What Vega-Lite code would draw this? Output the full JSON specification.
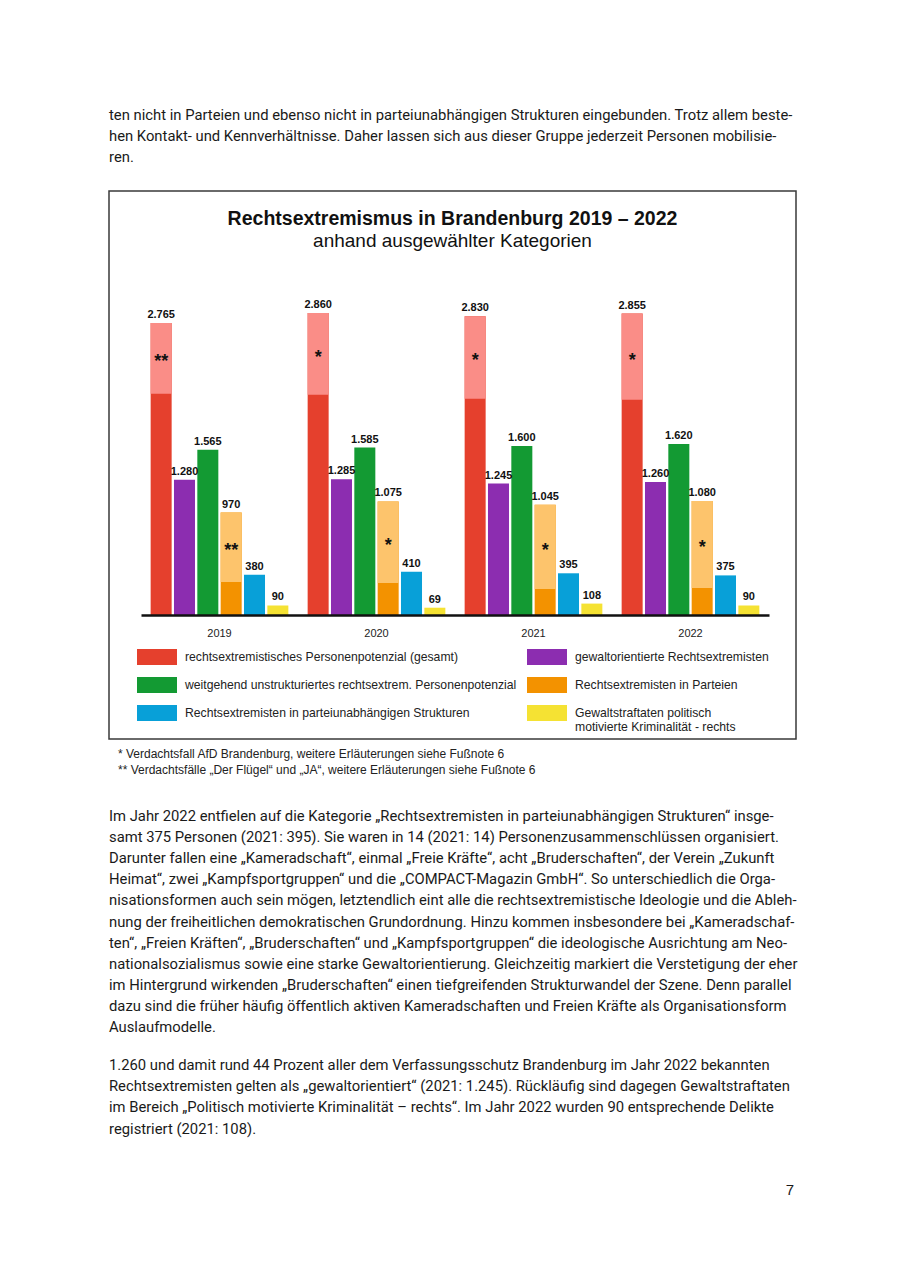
{
  "$schema": "https://vega.github.io/schema/vega-lite/v6.json",
  "background": "white",
  "padding": {"left": 108, "top": 0, "right": 0, "bottom": 0},
  "spacing": 0,
  "config": {
    "view": {"stroke": null},
    "font": "Liberation Sans",
    "locale": {"number": {"decimal": ",", "thousands": ".", "grouping": [3], "currency": ["", " €"]}},
    "text": {"font": "Roboto", "color": "#1a1a1a"}
  },
  "vconcat": [
    {
      "width": 687, "height": 190,
      "data": {"values": [
        {"zeile": 1, "text": "ten nicht in Parteien und ebenso nicht in parteiunabhängigen Strukturen eingebunden. Trotz allem beste-"},
        {"zeile": 2, "text": "hen Kontakt- und Kennverhältnisse. Daher lassen sich aus dieser Gruppe jederzeit Personen mobilisie-"},
        {"zeile": 3, "text": "ren."}
      ]},
      "mark": {"type": "text", "align": "left", "baseline": "middle", "fontSize": 14.8},
      "encoding": {
        "x": {"datum": 0, "type": "quantitative", "scale": {"domain": [0, 1]}, "axis": null},
        "y": {"field": "zeile", "type": "quantitative", "scale": {"domain": [-4.5238, 4.5238], "reverse": true, "nice": false, "zero": false}, "axis": null},
        "text": {"field": "text"}
      }
    },
    {
      "width": 687, "height": 548,
      "view": {"stroke": "#3a3a3a", "strokeWidth": 1.5},
      "title": {
        "text": "Rechtsextremismus in Brandenburg 2019 – 2022",
        "subtitle": "anhand ausgewählter Kategorien",
        "anchor": "middle", "frame": "group", "orient": "top", "offset": -61,
        "font": "Liberation Sans", "fontSize": 19.5, "fontWeight": "bold", "color": "#111",
        "subtitleFont": "Liberation Sans", "subtitleFontSize": 19, "subtitleColor": "#111", "subtitlePadding": 3
      },
      "data": {"values": [
        {"jahr": "2019", "kategorie": "rechtsextremistisches Personenpotenzial (gesamt)", "gesamt": 2765, "kern": 2095, "stern": "**"},
        {"jahr": "2019", "kategorie": "gewaltorientierte Rechtsextremisten", "gesamt": 1280},
        {"jahr": "2019", "kategorie": "weitgehend unstrukturiertes rechtsextrem. Personenpotenzial", "gesamt": 1565},
        {"jahr": "2019", "kategorie": "Rechtsextremisten in Parteien", "gesamt": 970, "kern": 313, "stern": "**"},
        {"jahr": "2019", "kategorie": "Rechtsextremisten in parteiunabhängigen Strukturen", "gesamt": 380},
        {"jahr": "2019", "kategorie": "Gewaltstraftaten politisch\nmotivierte Kriminalität - rechts", "gesamt": 90},
        {"jahr": "2020", "kategorie": "rechtsextremistisches Personenpotenzial (gesamt)", "gesamt": 2860, "kern": 2085, "stern": "*"},
        {"jahr": "2020", "kategorie": "gewaltorientierte Rechtsextremisten", "gesamt": 1285},
        {"jahr": "2020", "kategorie": "weitgehend unstrukturiertes rechtsextrem. Personenpotenzial", "gesamt": 1585},
        {"jahr": "2020", "kategorie": "Rechtsextremisten in Parteien", "gesamt": 1075, "kern": 303, "stern": "*"},
        {"jahr": "2020", "kategorie": "Rechtsextremisten in parteiunabhängigen Strukturen", "gesamt": 410},
        {"jahr": "2020", "kategorie": "Gewaltstraftaten politisch\nmotivierte Kriminalität - rechts", "gesamt": 69},
        {"jahr": "2021", "kategorie": "rechtsextremistisches Personenpotenzial (gesamt)", "gesamt": 2830, "kern": 2047, "stern": "*"},
        {"jahr": "2021", "kategorie": "gewaltorientierte Rechtsextremisten", "gesamt": 1245},
        {"jahr": "2021", "kategorie": "weitgehend unstrukturiertes rechtsextrem. Personenpotenzial", "gesamt": 1600},
        {"jahr": "2021", "kategorie": "Rechtsextremisten in Parteien", "gesamt": 1045, "kern": 246, "stern": "*"},
        {"jahr": "2021", "kategorie": "Rechtsextremisten in parteiunabhängigen Strukturen", "gesamt": 395},
        {"jahr": "2021", "kategorie": "Gewaltstraftaten politisch\nmotivierte Kriminalität - rechts", "gesamt": 108},
        {"jahr": "2022", "kategorie": "rechtsextremistisches Personenpotenzial (gesamt)", "gesamt": 2855, "kern": 2038, "stern": "*"},
        {"jahr": "2022", "kategorie": "gewaltorientierte Rechtsextremisten", "gesamt": 1260},
        {"jahr": "2022", "kategorie": "weitgehend unstrukturiertes rechtsextrem. Personenpotenzial", "gesamt": 1620},
        {"jahr": "2022", "kategorie": "Rechtsextremisten in Parteien", "gesamt": 1080, "kern": 256, "stern": "*"},
        {"jahr": "2022", "kategorie": "Rechtsextremisten in parteiunabhängigen Strukturen", "gesamt": 375},
        {"jahr": "2022", "kategorie": "Gewaltstraftaten politisch\nmotivierte Kriminalität - rechts", "gesamt": 90}
      ]},
      "encoding": {
        "x": {
          "field": "jahr", "type": "nominal",
          "scale": {"range": [32, 660], "paddingInner": 0.108, "paddingOuter": 0.054},
          "axis": {"title": null, "orient": "bottom", "offset": -124, "ticks": false, "domainColor": "#111", "domainWidth": 2.5, "labelAngle": 0, "labelFont": "Liberation Sans", "labelFontSize": 11, "labelColor": "#222", "labelPadding": 12, "zindex": 1}
        },
        "xOffset": {
          "field": "kategorie", "type": "nominal",
          "sort": ["rechtsextremistisches Personenpotenzial (gesamt)", "gewaltorientierte Rechtsextremisten", "weitgehend unstrukturiertes rechtsextrem. Personenpotenzial", "Rechtsextremisten in Parteien", "Rechtsextremisten in parteiunabhängigen Strukturen", "Gewaltstraftaten politisch\nmotivierte Kriminalität - rechts"],
          "scale": {"paddingInner": 0.1, "paddingOuter": 0.05}
        }
      },
      "layer": [
        {
          "mark": {"type": "bar"},
          "encoding": {
            "y": {"field": "gesamt", "type": "quantitative", "scale": {"domain": [0, 3125], "range": [424, 94], "nice": false}, "axis": null},
            "color": {
              "field": "kategorie", "type": "nominal",
              "scale": {
                "domain": ["rechtsextremistisches Personenpotenzial (gesamt)", "gewaltorientierte Rechtsextremisten", "weitgehend unstrukturiertes rechtsextrem. Personenpotenzial", "Rechtsextremisten in Parteien", "Rechtsextremisten in parteiunabhängigen Strukturen", "Gewaltstraftaten politisch\nmotivierte Kriminalität - rechts"],
                "range": ["#e5402d", "#8c2db0", "#139a33", "#f39200", "#08a0d8", "#f5e233"]
              },
              "legend": {
                "orient": "none", "legendX": 28, "legendY": 637, "columns": 2, "direction": "horizontal", "title": null,
                "gridAlign": "each",
                "symbolType": "M-1,-0.4H1V0.4H-1Z", "symbolSize": 1600, "symbolStrokeWidth": 0,
                "labelFont": "Liberation Sans", "labelFontSize": 12.2, "labelColor": "#222",
                "labelOffset": 8, "columnPadding": 10, "rowPadding": 0, "labelLimit": 400,
                "labelExpr": "split(datum.label, '\\n')"
              }
            }
          }
        },
        {
          "transform": [{"filter": "isValid(datum.kern)"}],
          "mark": {"type": "bar"},
          "encoding": {
            "y": {"field": "gesamt", "type": "quantitative"},
            "y2": {"field": "kern"},
            "fill": {
              "field": "kategorie", "type": "nominal",
              "scale": {"domain": ["rechtsextremistisches Personenpotenzial (gesamt)", "Rechtsextremisten in Parteien"], "range": ["#fa8d87", "#fdc46c"]},
              "legend": null
            }
          }
        },
        {
          "mark": {"type": "text", "baseline": "bottom", "dy": -3, "font": "Liberation Sans", "fontSize": 11, "fontWeight": "bold", "color": "#111"},
          "encoding": {
            "y": {"field": "gesamt", "type": "quantitative"},
            "text": {"field": "gesamt", "type": "quantitative", "format": ",d"}
          }
        },
        {
          "transform": [{"filter": "isValid(datum.stern)"}, {"calculate": "(datum.gesamt + datum.kern) / 2", "as": "mitte"}],
          "mark": {"type": "text", "baseline": "middle", "dy": 4, "font": "Liberation Sans", "fontSize": 18, "fontWeight": "bold", "color": "#111"},
          "encoding": {
            "y": {"field": "mitte", "type": "quantitative"},
            "text": {"field": "stern"}
          }
        }
      ]
    },
    {
      "width": 687, "height": 44,
      "data": {"values": [
        {"zeile": 1, "text": "* Verdachtsfall AfD Brandenburg, weitere Erläuterungen siehe Fußnote 6"},
        {"zeile": 2, "text": "** Verdachtsfälle „Der Flügel“ und „JA“, weitere Erläuterungen siehe Fußnote 6"}
      ]},
      "mark": {"type": "text", "align": "left", "baseline": "middle", "dx": 9, "font": "Liberation Sans", "fontSize": 12, "color": "#222"},
      "encoding": {
        "x": {"datum": 0, "type": "quantitative", "scale": {"domain": [0, 1]}, "axis": null},
        "y": {"field": "zeile", "type": "quantitative", "scale": {"domain": [0.125, 2.875], "reverse": true, "nice": false, "zero": false}, "axis": null},
        "text": {"field": "text"}
      }
    },
    {
      "width": 687, "height": 263,
      "data": {"values": [
        {"zeile": 1, "text": "Im Jahr 2022 entfielen auf die Kategorie „Rechtsextremisten in parteiunabhängigen Strukturen“ insge-"},
        {"zeile": 2, "text": "samt 375 Personen (2021: 395). Sie waren in 14 (2021: 14) Personenzusammenschlüssen organisiert."},
        {"zeile": 3, "text": "Darunter fallen eine „Kameradschaft“, einmal „Freie Kräfte“, acht „Bruderschaften“, der Verein „Zukunft"},
        {"zeile": 4, "text": "Heimat“, zwei „Kampfsportgruppen“ und die „COMPACT-Magazin GmbH“. So unterschiedlich die Orga-"},
        {"zeile": 5, "text": "nisationsformen auch sein mögen, letztendlich eint alle die rechtsextremistische Ideologie und die Ableh-"},
        {"zeile": 6, "text": "nung der freiheitlichen demokratischen Grundordnung. Hinzu kommen insbesondere bei „Kameradschaf-"},
        {"zeile": 7, "text": "ten“, „Freien Kräften“, „Bruderschaften“ und „Kampfsportgruppen“ die ideologische Ausrichtung am Neo-"},
        {"zeile": 8, "text": "nationalsozialismus sowie eine starke Gewaltorientierung. Gleichzeitig markiert die Verstetigung der eher"},
        {"zeile": 9, "text": "im Hintergrund wirkenden „Bruderschaften“ einen tiefgreifenden Strukturwandel der Szene. Denn parallel"},
        {"zeile": 10, "text": "dazu sind die früher häufig öffentlich aktiven Kameradschaften und Freien Kräfte als Organisationsform"},
        {"zeile": 11, "text": "Auslaufmodelle."}
      ]},
      "mark": {"type": "text", "align": "left", "baseline": "middle", "fontSize": 14.8},
      "encoding": {
        "x": {"datum": 0, "type": "quantitative", "scale": {"domain": [0, 1]}, "axis": null},
        "y": {"field": "zeile", "type": "quantitative", "scale": {"domain": [-0.564, 11.9], "reverse": true, "nice": false, "zero": false}, "axis": null},
        "text": {"field": "text"}
      }
    },
    {
      "width": 687, "height": 105,
      "data": {"values": [
        {"zeile": 1, "text": "1.260 und damit rund 44 Prozent aller dem Verfassungsschutz Brandenburg im Jahr 2022 bekannten"},
        {"zeile": 2, "text": "Rechtsextremisten gelten als „gewaltorientiert“ (2021: 1.245). Rückläufig sind dagegen Gewaltstraftaten"},
        {"zeile": 3, "text": "im Bereich „Politisch motivierte Kriminalität – rechts“. Im Jahr 2022 wurden 90 entsprechende Delikte"},
        {"zeile": 4, "text": "registriert (2021: 108)."}
      ]},
      "mark": {"type": "text", "align": "left", "baseline": "middle", "fontSize": 14.8},
      "encoding": {
        "x": {"datum": 0, "type": "quantitative", "scale": {"domain": [0, 1]}, "axis": null},
        "y": {"field": "zeile", "type": "quantitative", "scale": {"domain": [0.1038, 5.057], "reverse": true, "nice": false, "zero": false}, "axis": null},
        "text": {"field": "text"}
      }
    },
    {
      "width": 685, "height": 60,
      "data": {"values": [{"zeile": 1, "text": "7"}]},
      "mark": {"type": "text", "align": "right", "baseline": "middle", "font": "Liberation Sans", "fontSize": 15},
      "encoding": {
        "x": {"datum": 1, "type": "quantitative", "scale": {"domain": [0, 1]}, "axis": null},
        "y": {"field": "zeile", "type": "quantitative", "scale": {"domain": [-0.8095, 2.0476], "reverse": true, "nice": false, "zero": false}, "axis": null},
        "text": {"field": "text"}
      }
    }
  ]
}
